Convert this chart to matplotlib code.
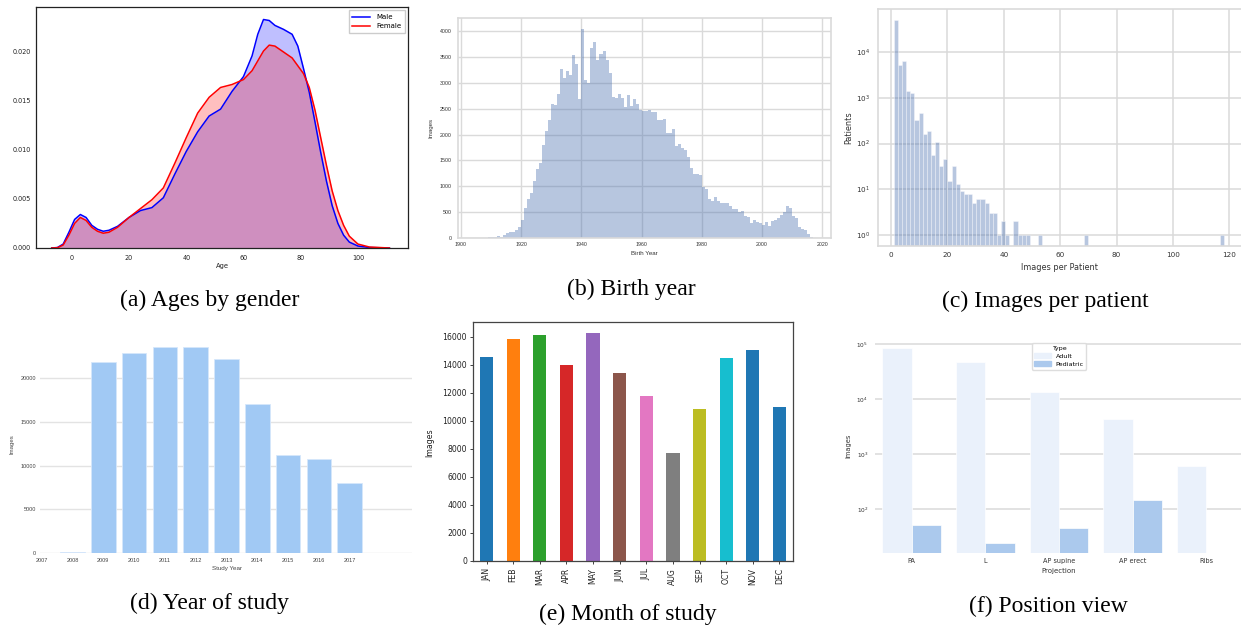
import numpy as np
import matplotlib
matplotlib.use('Agg')
import matplotlib.pyplot as plt
from matplotlib.patches import Patch

# ---- data ----
# (a) age density by gender
ages = [-7, -5, -3, -1, 1, 3, 5, 7, 9, 11, 13, 16, 20, 24, 28, 32, 36, 40, 44, 48,
        52, 56, 60, 63, 65, 67, 69, 71, 74, 77, 79, 81, 83, 85, 87, 89, 91, 93, 95,
        97, 100, 104, 111]
male_density = [0, 0.00005, 0.0004, 0.0016, 0.0029, 0.0034, 0.0031, 0.0023, 0.0019,
                0.0017, 0.0018, 0.0022, 0.0031, 0.0038, 0.0041, 0.0051, 0.0075, 0.0098,
                0.0118, 0.0134, 0.0141, 0.0159, 0.0174, 0.0195, 0.0217, 0.0232, 0.0231,
                0.0226, 0.0222, 0.0217, 0.0205, 0.0182, 0.0158, 0.0128, 0.0097, 0.0068,
                0.0043, 0.0025, 0.0013, 0.0006, 0.0002, 0.00005, 0]
female_density = [0, 0.00003, 0.0003, 0.0013, 0.0025, 0.0031, 0.0028, 0.0021, 0.0017,
                  0.0015, 0.0016, 0.0021, 0.0031, 0.0040, 0.0049, 0.0061, 0.0086, 0.0112,
                  0.0137, 0.0153, 0.0163, 0.0166, 0.0171, 0.0180, 0.0190, 0.0200, 0.0206,
                  0.0205, 0.0199, 0.0193, 0.0185, 0.0177, 0.0163, 0.0140, 0.0112, 0.0084,
                  0.0058, 0.0038, 0.0023, 0.0012, 0.0004, 0.0001, 0]

# (b) images per birth year
birth_years = list(range(1909, 2017))
birth_counts = [10, 10, 15, 25, 15, 50, 90, 120, 110, 150, 200, 350, 570, 750, 870, 1100,
                1330, 1450, 1800, 2060, 2290, 2600, 2570, 2780, 3260, 3100, 3240, 3160,
                3540, 3370, 2680, 4050, 3060, 3000, 3670, 3800, 3450, 3560, 3610, 3440,
                3200, 2720, 2700, 2790, 2700, 2530, 2770, 2560, 2690, 2600, 2470, 2460,
                2460, 2470, 2440, 2430, 2280, 2280, 2300, 2020, 2020, 2110, 1780, 1820,
                1740, 1700, 1560, 1350, 1240, 1240, 1210, 990, 940, 750, 720, 790, 720,
                670, 670, 680, 620, 560, 560, 500, 520, 430, 400, 290, 340, 300, 290,
                250, 310, 220, 320, 340, 390, 440, 500, 620, 580, 430, 380, 200, 170,
                150, 70, 20]

# (c) patients per images-per-patient bin (80 bins over 1..118)
ipp_min, ipp_max = 1, 118
ipp_counts = [50500, 5200, 6300, 1400, 1250, 325, 470, 165, 190, 56, 108, 33, 47, 15,
              32, 13, 9, 8, 8, 5, 6, 6, 5, 3, 3, 1, 2, 1, 0, 2, 1, 1, 1, 0, 0, 1,
              0, 0, 0, 0, 0, 0, 0, 0, 0, 0, 1, 0, 0, 0, 0, 0, 0, 0, 0, 0, 0, 0, 0, 0,
              0, 0, 0, 0, 0, 0, 0, 0, 0, 0, 0, 0, 0, 0, 0, 0, 0, 0, 0, 1]

# (d) images per study year
study_years = [2007, 2008, 2009, 2010, 2011, 2012, 2013, 2014, 2015, 2016, 2017]
study_counts = [0, 120, 21800, 22900, 23500, 23600, 22200, 17050, 11200, 10800, 7960]

# (e) images per month
months = ['JAN', 'FEB', 'MAR', 'APR', 'MAY', 'JUN', 'JUL', 'AUG', 'SEP', 'OCT', 'NOV', 'DEC']
month_counts = [14550, 15830, 16090, 13950, 16260, 13400, 11790, 7670, 10860, 14500,
                15070, 11000]
month_colors = ['#1f77b4', '#ff7f0e', '#2ca02c', '#d62728', '#9467bd', '#8c564b',
                '#e377c2', '#7f7f7f', '#bcbd22', '#17becf', '#1f77b4', '#1f77b4']

# (f) images per projection
projections = ['PA', 'L', 'AP supine', 'AP erect', 'Ribs']
adult_counts = [86700, 47100, 13700, 4330, 612]
pediatric_counts = [52, 24, 46, 146, 0]

captions = ['(a) Ages by gender', '(b) Birth year', '(c) Images per patient',
            '(d) Year of study', '(e) Month of study', '(f) Position view']

W, H = 1241, 629


def box(l, t, r, b):
    # pixel box -> figure fraction
    return [l / W, 1 - b / H, (r - l) / W, (b - t) / H]


fig = plt.figure(figsize=(W / 100, H / 100), dpi=100)

# ---------------- (a) ----------------
ax = fig.add_axes(box(36, 7, 408, 248))
ax.fill_between(ages, male_density, color='blue', alpha=0.25, lw=0)
ax.plot(ages, male_density, color='blue', lw=1.1, label='Male')
ax.fill_between(ages, female_density, color='red', alpha=0.25, lw=0)
ax.plot(ages, female_density, color='red', lw=1.1, label='Female')
ax.set_xlim(-12.5, 117.5)
ax.set_ylim(0, 0.02447)
ax.set_xticks([0, 20, 40, 60, 80, 100])
ax.set_yticks([0, 0.005, 0.01, 0.015, 0.02])
ax.set_yticklabels(['0.000', '0.005', '0.010', '0.015', '0.020'])
ax.tick_params(labelsize=4.7, length=0, pad=3.8, colors='#222222')
ax.tick_params(axis='x', pad=5)
for s in ax.spines.values():
    s.set_color('#222222')
    s.set_linewidth(0.9)
ax.set_xlabel('Age', fontsize=4.9, color='#222222')
ax.xaxis.set_label_coords(0.5, -0.062)
ax.legend(loc='upper right', fontsize=5, handlelength=2.6, borderpad=0.5,
          labelspacing=0.5, framealpha=1, edgecolor='#cccccc', fancybox=False)

# ---------------- (b) ----------------
ax = fig.add_axes(box(457.7, 18.3, 830.7, 237.7))
ax.set_axisbelow(True)
ax.grid(True, color='#dadada', lw=1.0)
ax.bar(birth_years, birth_counts, width=1.0, align='edge', color='#4c72b0',
       alpha=0.4, lw=0)
ax.set_xlim(1898.9, 2022.8)
ax.set_ylim(0, 4252)
ax.set_xticks(range(1900, 2021, 20))
ax.set_yticks(range(0, 4001, 500))
ax.tick_params(labelsize=3.8, length=0, colors='#333333',
               labelfontfamily='Liberation Sans')
ax.tick_params(axis='y', pad=4.3)
ax.tick_params(axis='x', pad=3.0)
for s in ax.spines.values():
    s.set_color('#dadada')
    s.set_linewidth(1.2)
ax.set_xlabel('Birth Year', fontsize=4.4, color='#333333', family='Liberation Sans')
ax.set_ylabel('Images', fontsize=4.4, color='#333333', family='Liberation Sans')
ax.xaxis.set_label_coords(0.5, -0.062)
ax.yaxis.set_label_coords(-0.066, 0.5)

# ---------------- (c) ----------------
ax = fig.add_axes(box(877.7, 9, 1241.5, 245.7))
ax.set_axisbelow(True)
ax.grid(True, color='#dadada', lw=1.1)
edges = np.linspace(ipp_min, ipp_max, len(ipp_counts) + 1)
ax.bar(edges[:-1], ipp_counts, width=np.diff(edges), align='edge', color='#4c72b0',
       alpha=0.4, edgecolor='white', lw=0.6)
ax.set_yscale('log')
ax.set_xlim(-4.72, 124.3)
ax.set_ylim(0.583, 88000)
ax.set_xticks(range(0, 121, 20))
ax.set_yticks([1, 10, 100, 1000, 10000])
ax.minorticks_off()
ax.tick_params(labelsize=5.2, length=0, colors='#333333')
ax.tick_params(axis='y', pad=5.3)
ax.tick_params(axis='x', pad=4.6)
for s in ax.spines.values():
    s.set_color('#dadada')
    s.set_linewidth(1.2)
ax.set_xlabel('Images per Patient', fontsize=5.9, color='#333333')
ax.set_ylabel('Patients', fontsize=5.9, color='#333333')
ax.xaxis.set_label_coords(0.5, -0.071)
ax.yaxis.set_label_coords(-0.067, 0.5)

# ---------------- (d) ----------------
ax = fig.add_axes(box(40, 336, 411.7, 553))
ax.set_axisbelow(True)
ax.grid(True, axis='y', color='#e3e3e3', lw=1.0)
ax.bar(study_years, study_counts, width=0.8, color='#a1c9f4', edgecolor='#d6e7fb', lw=0.6)
ax.set_xlim(2006.945, 2019.01)
ax.set_ylim(0, 24800)
ax.set_xticks(study_years)
ax.set_yticks(range(0, 20001, 5000))
ax.tick_params(labelsize=4.0, length=0, colors='#444444',
               labelfontfamily='Liberation Sans')
ax.tick_params(axis='y', pad=3.0)
ax.tick_params(axis='x', pad=3.4)
for s in ax.spines.values():
    s.set_visible(False)
ax.set_xlabel('Study Year', fontsize=4.5, color='#444444', family='Liberation Sans')
ax.set_ylabel('Images', fontsize=4.3, color='#444444', family='Liberation Sans')
ax.xaxis.set_label_coords(0.502, -0.062)
ax.yaxis.set_label_coords(-0.069, 0.5)

# ---------------- (e) ----------------
ax = fig.add_axes(box(473.3, 322.3, 792.7, 560.7))
ax.bar(range(len(months)), month_counts, width=0.5, color=month_colors)
ax.set_xlim(-0.5, len(months) - 0.5)
ax.set_ylim(0, 17030)
ax.set_xticks(range(len(months)))
ax.set_xticklabels(months, rotation=90)
ax.set_yticks(range(0, 16001, 2000))
ax.tick_params(labelsize=5.6, length=2.2, width=0.6, colors='#222222')
ax.tick_params(axis='y', pad=2.3)
ax.tick_params(axis='x', pad=3.0)
for s in ax.spines.values():
    s.set_color('#444444')
    s.set_linewidth(0.9)
ax.set_ylabel('Images', fontsize=5.6, color='#222222')
ax.yaxis.set_label_coords(-0.123, 0.495)

# ---------------- (f) ----------------
ax = fig.add_axes(box(875, 338, 1243, 552.7))
ax.set_axisbelow(True)
ax.grid(True, axis='y', color='#dadada', lw=1.1)
xpos = np.arange(len(projections))
ax.bar(xpos - 0.2, adult_counts, width=0.4, color='#eaf1fb', edgecolor='white', lw=0.5)
ax.bar(xpos + 0.2, pediatric_counts, width=0.4, color='#abc9ed', edgecolor='white', lw=0.5)
ax.set_yscale('log')
ax.set_xlim(-0.5, len(projections) - 0.5)
ax.set_ylim(16.0, 130000)
ax.set_xticks(xpos)
ax.set_xticklabels(projections)
ax.set_yticks([100, 1000, 10000, 100000])
ax.minorticks_off()
ax.tick_params(labelsize=4.7, length=0, colors='#333333')
ax.tick_params(axis='y', pad=4.8, labelsize=4.2)
ax.tick_params(axis='x', pad=4.0)
for s in ax.spines.values():
    s.set_visible(False)
ax.set_xlabel('Projection', fontsize=5.0, color='#333333')
ax.set_ylabel('Images', fontsize=4.8, color='#333333')
ax.xaxis.set_label_coords(0.5, -0.072)
ax.yaxis.set_label_coords(-0.065, 0.5)
handles = [Patch(color='#eaf1fb', label='Adult'), Patch(color='#abc9ed', label='Pediatric')]
leg = ax.legend(handles=handles, title='Type', loc='upper center',
                bbox_to_anchor=(0.5, 0.99), fontsize=4.6, title_fontsize=4.6,
                handlelength=2.6, handleheight=0.7, framealpha=1, edgecolor='#dddddd',
                labelspacing=0.4, borderpad=0.4)

# ---------------- captions ----------------
cap_pos = [(210, 300), (631, 289), (1045, 301), (210, 603), (628, 614), (1048, 606)]
for txt, (cx, cy) in zip(captions, cap_pos):
    fig.text(cx / W, 1 - cy / H, txt, ha='center', va='center', fontsize=17,
             family='Liberation Serif')

fig.savefig('out.png', dpi=100)
